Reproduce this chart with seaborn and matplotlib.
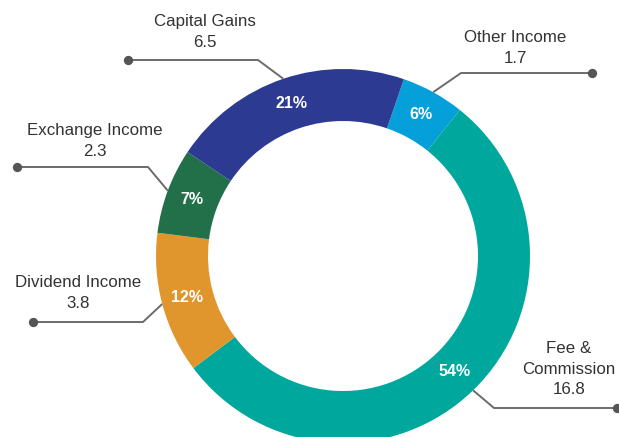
import numpy as np
import matplotlib
matplotlib.use("Agg")
import matplotlib.pyplot as plt
import seaborn as sns

# slices in clockwise order, starting just right of 12 o'clock
categories = ["Other Income", "Fee &\nCommission", "Dividend Income", "Exchange Income", "Capital Gains"]
values = [1.7, 16.8, 3.8, 2.3, 6.5]
shares = ["6%", "54%", "12%", "7%", "21%"]
colors = ["#05A0DA", "#00A79D", "#E0952D", "#22704A", "#2D3A91"]

# label layout in pixels (x, y from top): text centre, elbow, dot
label_pos = [(515, 48), (569, 369), (78, 293), (95, 141), (205, 32)]
elbow_pos = [(461, 73), (494, 408), (143, 322), (148, 167), (258, 60)]
dot_pos = [(592, 73), (617, 408), (33, 322), (17, 167), (128, 60)]

W, H = 619, 437
CX, CY = 343, 256
R_OUT, R_IN = 187, 135

sns.set_theme(style="white")
plt.rcParams["font.family"] = ["Liberation Sans", "DejaVu Sans"]

fig = plt.figure(figsize=(W / 100, H / 100), dpi=100)
ax = fig.add_axes([0, 0, 1, 1])
ax.set_aspect("equal")

def fy(y):
    return H - y

pal = sns.color_palette(colors)
wedges, _, autotexts = ax.pie(
    values, colors=pal, startangle=71, counterclock=False,
    center=(CX, fy(CY)), radius=R_OUT, frame=True,
    autopct="%.0f%%", pctdistance=(R_OUT + R_IN) / 2 / R_OUT,
    wedgeprops=dict(width=R_OUT - R_IN, linewidth=0),
    textprops=dict(color="white", fontsize=11.5, fontweight="bold"))
for t, s in zip(autotexts, shares):
    t.set_text(s)
ax.set_xlim(0, W)
ax.set_ylim(0, H)
ax.axis("off")

line_col = "#6b6b6b"
for w, name, v, tp, ep, dp in zip(wedges, categories, values, label_pos, elbow_pos, dot_pos):
    ang = np.deg2rad((w.theta1 + w.theta2) / 2)
    ax0 = CX + R_OUT * np.cos(ang)
    ay0 = fy(CY) + R_OUT * np.sin(ang)
    ax.plot([ax0, ep[0], dp[0]], [ay0, fy(ep[1]), fy(dp[1])],
            color=line_col, lw=1.4, solid_capstyle="butt", zorder=3)
    ax.scatter([dp[0]], [fy(dp[1])], s=45, color="#555555", zorder=4, linewidths=0)
    ax.text(tp[0], fy(tp[1]), f"{name}\n{v}", ha="center", va="center",
            fontsize=12.2, color="#333333", linespacing=1.45)

fig.savefig("out.png", dpi=100)
